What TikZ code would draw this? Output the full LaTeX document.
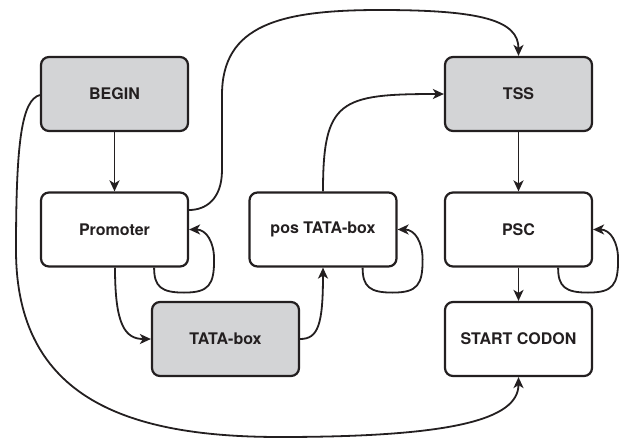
\documentclass[tikz,border=0pt]{standalone}
\usepackage{fontspec}
\setmainfont{TeX Gyre Heros}
\usetikzlibrary{arrows.meta}
\definecolor{ink}{HTML}{231F20}
\definecolor{boxgray}{HTML}{D3D4D6}
\newcommand\myselfloop[1]{\draw[arr] ([xshift=-35pt]#1.south east) .. controls +(0pt,-19pt) and +(-23pt,0pt) .. ([xshift=-5pt,yshift=-25pt]#1.south east) .. controls +(25pt,0pt) and +(0pt,-25pt) .. ([xshift=25pt,yshift=8pt]#1.south east) .. controls +(0pt,18pt) and +(17pt,0pt) .. (#1.east);}
\begin{document}
\begin{tikzpicture}[x=1pt,y=-1pt,
  state/.style={draw=ink, line width=2.2pt, rounded corners=8pt, minimum width=147pt, minimum height=74pt, fill=white, text=ink, font=\fontsize{16}{19}\selectfont\bfseries, inner sep=0pt},
  shaded/.style={state, fill=boxgray},
  arr/.style={draw=ink, line width=1.8pt, -{Stealth[length=11pt,width=10pt,inset=3pt]}}]
\useasboundingbox (0,0) rectangle (619,439);
\node[shaded] (begin) at (114.5,94) {BEGIN};
\node[state] (promoter) at (114.5,229.5) {Promoter};
\node[shaded] (tata) at (225.5,339) {TATA-box};
\node[state] (pos) at (323,229.5) {pos TATA-box};
\node[shaded] (tss) at (518.5,94) {TSS};
\node[state] (psc) at (518.5,229.5) {PSC};
\node[state] (start) at (518.5,339) {START CODON};
\draw[arr] (begin) -- (promoter);
\draw[arr] (tss) -- (psc);
\draw[arr] (psc) -- (start);
\draw[arr] ([yshift=19.5pt]promoter.east) .. controls (205,210) and (222,200) .. (222,170) -- (222,95) .. controls (222,25) and (280,10) .. (380,10) .. controls (480,10) and (518.5,20) .. (tss.north);
\draw[arr] ([xshift=0.5pt]promoter.south) .. controls (115,325) and (125,339) .. (tata.west);
\draw[arr] (tata.east) .. controls (318,339) and (323,325) .. (pos.south);
\draw[arr] (pos.north) .. controls (323,100) and (340,94) .. (tss.west);
\draw[arr] ([yshift=-1pt]begin.west) .. controls (22,100) and (16,140) .. (16,250) .. controls (16,400) and (130,437) .. (280,437) .. controls (450,437) and (518.5,420) .. (start.south);
\myselfloop{promoter}
\myselfloop{pos}
\myselfloop{psc}
\end{tikzpicture}
\end{document}
